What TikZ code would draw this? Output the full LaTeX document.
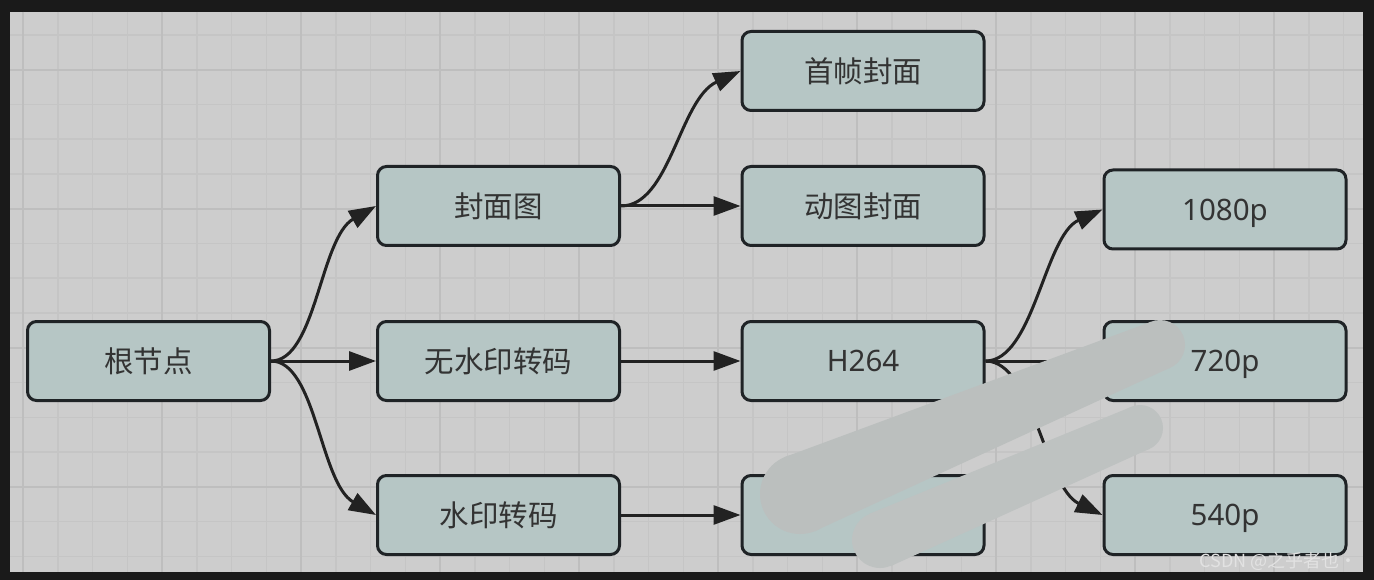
\documentclass[tikz,border=0pt]{standalone}
\usepackage{fontspec}
\setmainfont{Noto Sans}
\newfontfamily\cjk{Noto Sans CJK SC}
\usetikzlibrary{arrows.meta}
\definecolor{framecol}{HTML}{1A1A1A}
\definecolor{bgcol}{HTML}{CDCDCD}
\definecolor{gridminor}{HTML}{C5C5C5}
\definecolor{gridmajor}{HTML}{BEBEBE}
\definecolor{nodefill}{HTML}{B6C6C5}
\definecolor{nodeline}{HTML}{1F2326}
\definecolor{edgecol}{HTML}{222222}
\definecolor{txtcol}{HTML}{333333}
\definecolor{smearA}{HTML}{BBBFBE}
\definecolor{smearB}{HTML}{BEC2C1}
\definecolor{wmkcol}{HTML}{E2E2E2}
\begin{document}
\begin{tikzpicture}[x=1pt,y=-1pt,
  box/.style={draw=nodeline, line width=3pt, fill=nodefill, rounded corners=9pt,
    minimum width=242pt, minimum height=79pt, inner sep=0pt, text=txtcol,
    font=\fontsize{29.5}{32}\selectfont, text depth=0pt},
  cnbox/.style={box, font=\cjk\fontsize{29.5}{32}\selectfont, text depth=, text height=},
  link/.style={draw=edgecol, line width=3pt, -{Triangle[length=27pt,width=19pt]}},
]
\useasboundingbox (0,0) rectangle (1374,580);
\fill[framecol] (0,0) rectangle (1374,580);
\fill[bgcol] (10,12) rectangle (1363,572);
\begin{scope}
  \clip (10,12) rectangle (1363,572);
  \foreach \i in {0,...,38} {
    \draw[gridminor, line width=1.5pt] ({23+34.75*\i},12) -- ({23+34.75*\i},572);
  }
  \foreach \i in {0,...,16} {
    \draw[gridminor, line width=1.5pt] (10,{0.25+34.75*\i}) -- (1363,{0.25+34.75*\i});
  }
  \foreach \i in {0,...,9} {
    \draw[gridmajor, line width=1.5pt] ({23+139*\i},12) -- ({23+139*\i},572);
  }
  \foreach \i in {0,...,3} {
    \draw[gridmajor, line width=1.5pt] (10,{70+139*\i}) -- (1363,{70+139*\i});
  }
\end{scope}

% nodes
\node[cnbox] (root) at (148.5,361) {根节点};
\node[cnbox] (fm) at (498.5,206) {封面图};
\node[cnbox] (nw) at (498.5,361) {无水印转码};
\node[cnbox] (wm) at (498.5,515) {水印转码};
\node[cnbox] (sz) at (863,71) {首帧封面};
\node[cnbox] (dt) at (863,206) {动图封面};
\node[box] (h264) at (863,361) {H264};
\node[box] (hid) at (863,515) {};
\node[box] (p1080) at (1225,209.5) {1080p};
\node[box] (p720) at (1225,361) {720p};
\node[box] (p540) at (1225,515) {540p};

% edges
\draw[link] (root.east) .. controls +(45,0) and +(-56,32) .. (fm.west);
\draw[link] (root.east) -- (nw.west);
\draw[link] (root.east) .. controls +(45,0) and +(-56,-32) .. (wm.west);
\draw[link] (fm.east) .. controls +(49,0) and +(-61,28) .. (sz.west);
\draw[link] (fm.east) -- (dt.west);
\draw[link] (nw.east) -- (h264.west);
\draw[link] (wm.east) -- (hid.west);
\draw[link] (h264.east) .. controls +(48,0) and +(-58,26) .. (p1080.west);
\draw[link] (h264.east) -- (p720.west);
\draw[link] (h264.east) .. controls +(48,0) and +(-58,-28) .. (p540.west);

% redaction smears
\fill[smearA] (800,494) circle[radius=40];
\fill[smearA] (1160,345) circle[radius=25];
\fill[smearA] (785,457) -- (1150.5,322) -- (1169.5,368) -- (815,531) -- cycle;
\fill[smearB] (880,540) circle[radius=28];
\fill[smearB] (1140,428) circle[radius=23];
\fill[smearB] (869,514) -- (1131,407) -- (1149,449) -- (891,566) -- cycle;

% watermark
\node[anchor=east, inner sep=0pt, text=wmkcol, font=\cjk\fontsize{18}{18}\selectfont] (wmk) at (1358,561) {CSDN @之乎者也·};
\end{tikzpicture}
\end{document}
